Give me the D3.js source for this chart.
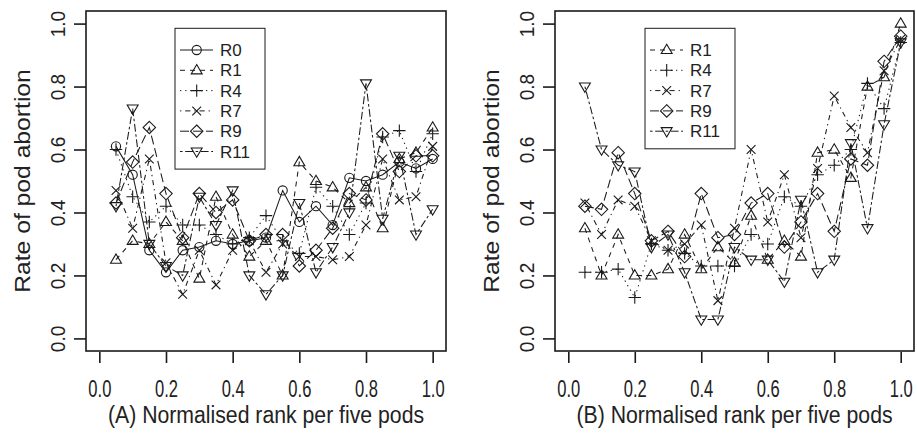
<!DOCTYPE html>
<html>
<head>
<meta charset="utf-8">
<script src="https://cdn.jsdelivr.net/npm/d3@7"></script>
<style>
  html, body { margin: 0; padding: 0; background: #fff; }
  svg { display: block; }
  text { font-family: "Liberation Sans", Arial, sans-serif; fill: #222; }
</style>
</head>
<body>
<svg id="chart" width="917" height="437"></svg>
<script>
// ---------------- data ----------------
const ranks = [0.05, 0.10, 0.15, 0.20, 0.25, 0.30, 0.35, 0.40, 0.45, 0.50,
               0.55, 0.60, 0.65, 0.70, 0.75, 0.80, 0.85, 0.90, 0.95, 1.00];
const tickValues = [0.0, 0.2, 0.4, 0.6, 0.8, 1.0];

// Panel A
const A_R0  = [0.61, 0.52, 0.28, 0.21, 0.28, 0.29, 0.31, 0.30, 0.31, 0.32, 0.47, 0.37, 0.42, 0.36, 0.51, 0.50, 0.52, 0.56, 0.54, 0.57];
const A_R1  = [0.25, 0.31, 0.30, 0.37, 0.31, 0.19, 0.45, 0.33, 0.26, 0.31, 0.20, 0.56, 0.50, 0.48, 0.43, 0.48, 0.35, 0.57, 0.59, 0.67];
const A_R4  = [0.60, 0.45, 0.37, 0.42, 0.36, 0.36, 0.33, 0.30, 0.32, 0.39, 0.31, 0.27, 0.48, 0.42, 0.33, 0.43, 0.64, 0.66, 0.53, 0.65];
const A_R7  = [0.47, 0.35, 0.57, 0.24, 0.14, 0.28, 0.17, 0.28, 0.31, 0.21, 0.30, 0.26, 0.26, 0.25, 0.26, 0.36, 0.57, 0.44, 0.45, 0.61];
const A_R9  = [0.43, 0.56, 0.67, 0.46, 0.32, 0.46, 0.40, 0.44, 0.31, 0.33, 0.33, 0.23, 0.28, 0.35, 0.46, 0.44, 0.65, 0.53, 0.58, 0.58];
const A_R11 = [0.42, 0.73, 0.30, 0.23, 0.20, 0.45, 0.36, 0.47, 0.20, 0.14, 0.20, 0.43, 0.21, 0.29, 0.40, 0.81, 0.38, 0.58, 0.33, 0.41];

// Panel B
const B_R1  = [0.35, 0.20, 0.33, 0.20, 0.20, 0.22, 0.33, 0.22, 0.29, 0.24, 0.39, 0.25, 0.31, 0.26, 0.59, 0.60, 0.51, 0.80, 0.83, 1.00];
const B_R4  = [0.21, 0.21, 0.22, 0.13, 0.30, 0.28, 0.27, 0.23, 0.23, 0.23, 0.33, 0.30, 0.45, 0.42, 0.52, 0.55, 0.60, 0.81, 0.73, 0.94];
const B_R7  = [0.43, 0.33, 0.44, 0.42, 0.31, 0.28, 0.30, 0.36, 0.12, 0.35, 0.60, 0.37, 0.52, 0.32, 0.54, 0.77, 0.67, 0.59, 0.85, 0.95];
const B_R9  = [0.42, 0.41, 0.59, 0.46, 0.31, 0.34, 0.26, 0.46, 0.32, 0.33, 0.43, 0.46, 0.29, 0.37, 0.46, 0.34, 0.57, 0.55, 0.88, 0.96];
const B_R11 = [0.80, 0.60, 0.55, 0.53, 0.29, 0.33, 0.21, 0.06, 0.06, 0.29, 0.25, 0.25, 0.18, 0.44, 0.21, 0.25, 0.62, 0.35, 0.68, 0.94];

const seriesNamesA = ["R0", "R1", "R4", "R7", "R9", "R11"];
const seriesNamesB = ["R1", "R4", "R7", "R9", "R11"];
const seriesValuesA = [A_R0, A_R1, A_R4, A_R7, A_R9, A_R11];
const seriesValuesB = [B_R1, B_R4, B_R7, B_R9, B_R11];

const xTitleA = "(A) Normalised rank per five pods";
const xTitleB = "(B) Normalised rank per five pods";
const yTitle = "Rate of pod abortion";

// ---------------- styles (R lty / pch) ----------------
const styleOf = {
  R0:  { dash: null,          sym: "circle" },
  R1:  { dash: "5,5",         sym: "tri" },
  R4:  { dash: "1.3,3.9",     sym: "plus" },
  R7:  { dash: "1.3,3.9,5.2,3.9", sym: "cross" },
  R9:  { dash: "9,4",         sym: "diamond" },
  R11: { dash: "2.6,2.6,7.8,2.6", sym: "tridown" }
};

const svg = d3.select("#chart");
const ink = "#1a1a1a";
const SX = 0.86;          // horizontal compression of the title lettering
const tickFont = 23;
const titleFont = 24.7;

function drawSymbol(g, type, cx, cy) {
  const s = 4.6;
  const sw = 1.1;
  if (type === "circle") {
    g.append("circle").attr("cx", cx).attr("cy", cy).attr("r", s)
      .attr("fill", "none").attr("stroke", ink).attr("stroke-width", sw);
  } else if (type === "tri") {
    const h = s * 1.25;
    g.append("path").attr("d", `M${cx},${cy - h} L${cx + h * 0.95},${cy + h * 0.62} L${cx - h * 0.95},${cy + h * 0.62}Z`)
      .attr("fill", "none").attr("stroke", ink).attr("stroke-width", sw);
  } else if (type === "tridown") {
    const h = s * 1.25;
    g.append("path").attr("d", `M${cx},${cy + h} L${cx + h * 0.95},${cy - h * 0.62} L${cx - h * 0.95},${cy - h * 0.62}Z`)
      .attr("fill", "none").attr("stroke", ink).attr("stroke-width", sw);
  } else if (type === "plus") {
    const h = s * 1.35;
    g.append("path").attr("d", `M${cx - h},${cy} H${cx + h} M${cx},${cy - h} V${cy + h}`)
      .attr("fill", "none").attr("stroke", ink).attr("stroke-width", sw);
  } else if (type === "cross") {
    const h = s * 0.95;
    g.append("path").attr("d", `M${cx - h},${cy - h} L${cx + h},${cy + h} M${cx - h},${cy + h} L${cx + h},${cy - h}`)
      .attr("fill", "none").attr("stroke", ink).attr("stroke-width", sw);
  } else if (type === "diamond") {
    const h = s * 1.35;
    g.append("path").attr("d", `M${cx},${cy - h} L${cx + h},${cy} L${cx},${cy + h} L${cx - h},${cy}Z`)
      .attr("fill", "none").attr("stroke", ink).attr("stroke-width", sw);
  }
}

function panel(cfg) {
  const x = d3.scaleLinear().domain([-0.04, 1.04]).range([cfg.left, cfg.right]);
  const y = d3.scaleLinear().domain([-0.04, 1.04]).range([cfg.bottom, cfg.top]);
  const g = svg.append("g");

  // series
  cfg.names.forEach((name, i) => {
    const vals = cfg.values[i];
    const st = styleOf[name];
    const pts = ranks.map((r, k) => [x(r), y(vals[k])]);
    g.append("path").attr("d", d3.line()(pts))
      .attr("fill", "none").attr("stroke", ink).attr("stroke-width", 1.05)
      .attr("stroke-dasharray", st.dash);
    const sg = g.append("g");
    pts.forEach(p => drawSymbol(sg, st.sym, p[0], p[1]));
  });

  // frame
  g.append("rect").attr("x", cfg.left).attr("y", cfg.top)
    .attr("width", cfg.right - cfg.left).attr("height", cfg.bottom - cfg.top)
    .attr("fill", "none").attr("stroke", ink).attr("stroke-width", 1.6);

  // x axis
  const xAxis = d3.axisBottom(x).tickValues(tickValues).tickSize(11).tickPadding(12)
    .tickFormat(d3.format(".1f"));
  const ga = g.append("g").attr("transform", `translate(0,${cfg.bottom + 1})`).call(xAxis);
  ga.select(".domain").remove();
  ga.selectAll(".tick line").attr("stroke", ink).attr("stroke-width", 1.6);
  ga.selectAll(".tick text").attr("font-size", tickFont).attr("fill", "#222")
    .attr("y", 0).attr("dy", 0)
    .attr("transform", `translate(0,45) scale(0.72,1)`)
    .style("font-family", "'Liberation Sans', Arial, sans-serif");

  // y axis
  const yAxis = d3.axisLeft(y).tickValues(tickValues).tickSize(12).tickPadding(6)
    .tickFormat(d3.format(".1f"));
  const gy = g.append("g").attr("transform", `translate(${cfg.left},0)`).call(yAxis);
  gy.select(".domain").remove();
  gy.selectAll(".tick line").attr("stroke", ink).attr("stroke-width", 1.6);
  gy.selectAll(".tick text").attr("font-size", tickFont).attr("fill", "#222")
    .attr("x", 0).attr("y", 0).attr("dy", "0")
    .attr("transform", `translate(-21,0) scale(0.87,0.83) rotate(-90)`)
    .attr("text-anchor", "middle")
    .style("font-family", "'Liberation Sans', Arial, sans-serif");

  // titles
  g.append("text")
    .attr("transform", `translate(${(x(0) + x(1)) / 2},423) scale(${SX},1)`)
    .attr("text-anchor", "middle").attr("font-size", titleFont).text(cfg.xTitle);
  g.append("text")
    .attr("transform", `translate(${cfg.left - 56},${(y(0) + y(1)) / 2}) scale(${SX},1) rotate(-90)`)
    .attr("text-anchor", "middle").attr("font-size", titleFont).text(yTitle);

  // legend
  const lg = g.append("g");
  const n = cfg.names.length;
  const rowH = 20.3;
  lg.append("rect").attr("x", cfg.legX).attr("y", cfg.legY)
    .attr("width", cfg.legW).attr("height", rowH * n + 19)
    .attr("fill", "#fff").attr("stroke", ink).attr("stroke-width", 1);
  cfg.names.forEach((name, i) => {
    const cy = cfg.legY + 21.7 + i * rowH;
    const st = styleOf[name];
    lg.append("line").attr("x1", cfg.legX + 5).attr("x2", cfg.legX + 38)
      .attr("y1", cy).attr("y2", cy).attr("stroke", ink).attr("stroke-width", 1)
      .attr("stroke-dasharray", st.dash);
    drawSymbol(lg, st.sym, cfg.legX + 21.7, cy);
    lg.append("text").attr("x", cfg.legX + 45).attr("y", cy + 6)
      .attr("font-size", 17).text(name);
  });
}

panel({ left: 86, right: 446, top: 11, bottom: 351,
        names: seriesNamesA, values: seriesValuesA, xTitle: xTitleA,
        legX: 175, legY: 28.3, legW: 90 });
panel({ left: 555, right: 914, top: 11, bottom: 351,
        names: seriesNamesB, values: seriesValuesB, xTitle: xTitleB,
        legX: 645, legY: 28.3, legW: 90 });
</script>
</body>
</html>
